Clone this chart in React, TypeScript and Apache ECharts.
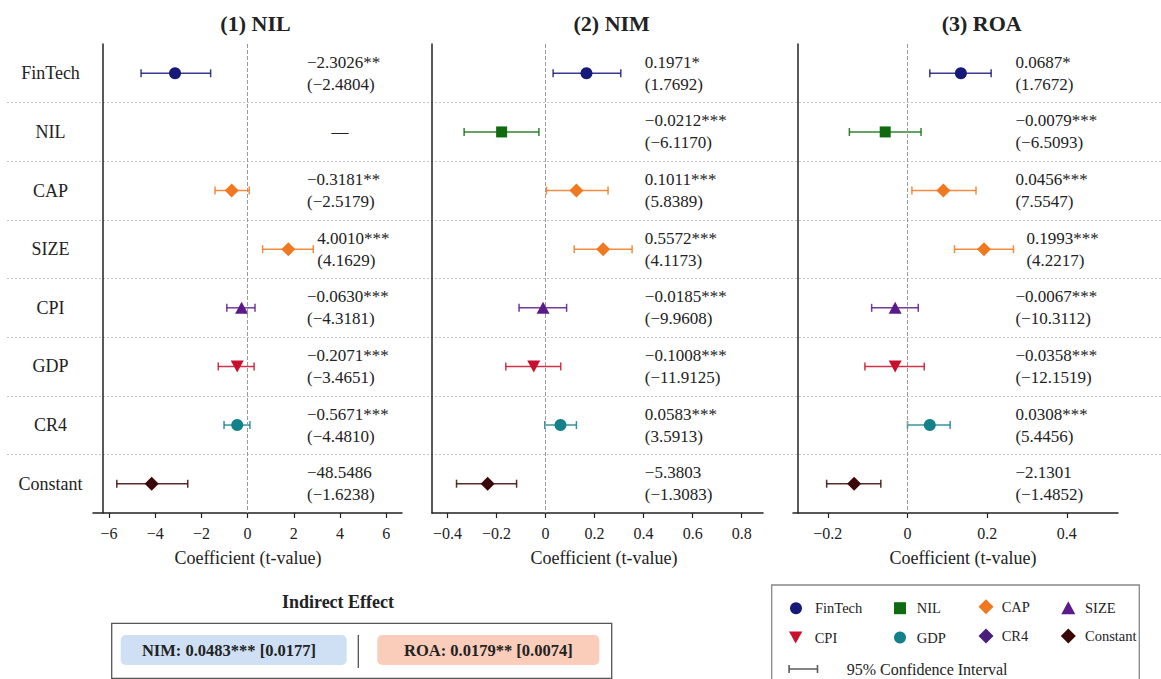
import React, { useEffect, useRef } from 'react';
import * as echarts from 'echarts';

// ---------------- data ----------------
const categories = ['FinTech', 'NIL', 'CAP', 'SIZE', 'CPI', 'GDP', 'CR4', 'Constant'];
const panelTitles = ['(1) NIL', '(2) NIM', '(3) ROA'];
const axisTitle = 'Coefficient (t-value)';

const nilCoef = ['\u22122.3026**', '\u2014', '\u22120.3181**', '4.0010***', '\u22120.0630***', '\u22120.2071***', '\u22120.5671***', '\u221248.5486'];
const nilT = ['(\u22122.4804)', '', '(\u22122.5179)', '(4.1629)', '(\u22124.3181)', '(\u22123.4651)', '(\u22124.4810)', '(\u22121.6238)'];
const nilPoint = [-3.14, null, -0.69, 1.76, -0.26, -0.45, -0.45, -4.15];
const nilLow = [-4.61, null, -1.41, 0.65, -0.90, -1.27, -1.02, -5.66];
const nilHigh = [-1.60, null, 0.07, 2.84, 0.32, 0.28, 0.10, -2.59];
const nilTicks = [-6, -4, -2, 0, 2, 4, 6];

const nimCoef = ['0.1971*', '\u22120.0212***', '0.1011***', '0.5572***', '\u22120.0185***', '\u22120.1008***', '0.0583***', '\u22125.3803'];
const nimT = ['(1.7692)', '(\u22126.1170)', '(5.8389)', '(4.1173)', '(\u22129.9608)', '(\u221211.9125)', '(3.5913)', '(\u22121.3083)'];
const nimPoint = [0.167, -0.179, 0.126, 0.235, -0.010, -0.048, 0.061, -0.236];
const nimLow = [0.031, -0.332, 0.004, 0.117, -0.108, -0.162, -0.003, -0.363];
const nimHigh = [0.307, -0.027, 0.255, 0.353, 0.086, 0.062, 0.126, -0.118];
const nimTicks = [-0.4, -0.2, 0, 0.2, 0.4, 0.6, 0.8];

const roaCoef = ['0.0687*', '\u22120.0079***', '0.0456***', '0.1993***', '\u22120.0067***', '\u22120.0358***', '0.0308***', '\u22122.1301'];
const roaT = ['(1.7672)', '(\u22126.5093)', '(7.5547)', '(4.2217)', '(\u221210.3112)', '(\u221212.1519)', '(5.4456)', '(\u22121.4852)'];
const roaPoint = [0.134, -0.056, 0.090, 0.192, -0.031, -0.031, 0.056, -0.134];
const roaLow = [0.056, -0.146, 0.011, 0.118, -0.090, -0.107, 0.000, -0.203];
const roaHigh = [0.210, 0.034, 0.172, 0.266, 0.027, 0.042, 0.107, -0.067];
const roaTicks = [-0.2, 0, 0.2, 0.4];

const indirectTitle = 'Indirect Effect';
const indirectNIM = 'NIM: 0.0483*** [0.0177]';
const indirectROA = 'ROA: 0.0179** [0.0074]';

const legendNames = ['FinTech', 'NIL', 'CAP', 'SIZE', 'CPI', 'GDP', 'CR4', 'Constant'];
const ciLegendName = '95% Confidence Interval';

// ---------------- styles / layout ----------------
const FONT = '"Liberation Serif", "Times New Roman", Times, serif';
const INK = '#222';
const INV_TRI = 'path://M0,0 L10,0 L5,9 Z';

const rowColors = ['#15197a', '#0f6b0f', '#f07820', '#f07820', '#5a1a8a', '#c8102e', '#13808a', '#3a0808'];
const rowSymbols = ['circle', 'rect', 'diamond', 'diamond', 'triangle', INV_TRI, 'circle', 'diamond'];
const rowSizes: any[] = [12, 11, 14, 14, [13, 12], [13, 12], 12, 14];

const legendColors = ['#15197a', '#0f6b0f', '#f07820', '#5a1a8a', '#c8102e', '#13808a', '#4a1f7a', '#3a0808'];
const legendIcons = ['circle', 'rect', 'diamond', 'triangle', INV_TRI, 'circle', 'diamond', 'diamond'];
const legendIconSize = [[12, 12], [12, 12], [15, 15], [14, 13], [14, 12], [12, 12], [15, 15], [15, 15]];
const legendColX = [796, 900, 986, 1068.3];
const legendTextX = [815, 916.7, 1001.7, 1085];
const legendRowY = [606.7, 636];

const panels = [
  { coef: nilCoef, t: nilT, point: nilPoint, low: nilLow, high: nilHigh, ticks: nilTicks },
  { coef: nimCoef, t: nimT, point: nimPoint, low: nimLow, high: nimHigh, ticks: nimTicks },
  { coef: roaCoef, t: roaT, point: roaPoint, low: roaLow, high: roaHigh, ticks: roaTicks },
];
const layout = [
  { left: 93, width: 309, min: -6.69, max: 6.68, yOffset: -10, textBase: 2.57, pad: 4, titleX: 255.5, nameX: 248 },
  { left: 432, width: 331, min: -0.463, max: 0.887, yOffset: 0, textBase: 0.405, pad: 12, titleX: 611.7, nameX: 604 },
  { left: 793, width: 325, min: -0.2875, max: 0.5285, yOffset: -5, textBase: 0.271, pad: 13, titleX: 981.7, nameX: 963 },
];
const GRID_TOP = 44;
const GRID_H = 469;

const fmtTick = (v: number) => (v === 0 ? '0' : v < 0 ? '\u2212' + String(Math.abs(v)) : String(v));

function buildOption() {
  const grid: any[] = [];
  const xAxis: any[] = [];
  const yAxis: any[] = [];
  const series: any[] = [];

  panels.forEach((P, pi) => {
    const L = layout[pi];
    grid.push({ left: L.left, top: GRID_TOP, width: L.width, height: GRID_H });
    xAxis.push({
      type: 'value', gridIndex: pi, min: L.min, max: L.max,
      axisLine: { show: true, onZero: false, lineStyle: { color: INK, width: 1.5 } },
      axisTick: { show: true, customValues: P.ticks, length: 5, lineStyle: { color: INK, width: 1.2 } },
      axisLabel: { show: true, customValues: P.ticks, formatter: fmtTick, fontFamily: FONT, fontSize: 16, color: INK, margin: 12 },
      splitLine: { show: false },
    });
    yAxis.push({
      type: 'category', gridIndex: pi, data: categories, inverse: true, offset: L.yOffset,
      axisLine: { show: true, onZero: false, lineStyle: { color: INK, width: 1.5 } },
      axisTick: { show: false },
      axisLabel: { show: pi === 0, align: 'center', margin: 52.5, fontFamily: FONT, fontSize: 18, color: INK },
      splitLine: { show: false },
    });

    const ciData: any[] = [];
    const ptData: any[] = [];
    const txtData: any[] = [];
    categories.forEach((_, i) => {
      if (P.low[i] != null && P.high[i] != null) ciData.push([P.low[i], P.high[i], i]);
      if (P.point[i] != null)
        ptData.push({ value: [P.point[i], i], symbol: rowSymbols[i], symbolSize: rowSizes[i], itemStyle: { color: rowColors[i], opacity: 1 } });
      txtData.push([L.textBase, i]);
    });

    series.push({
      type: 'custom', name: 'ci' + pi, xAxisIndex: pi, yAxisIndex: pi, z: 3,
      encode: { x: [0, 1], y: 2 },
      data: ciData,
      renderItem: (params: any, api: any) => {
        const lo = api.value(0), hi = api.value(1), idx = api.value(2);
        const a = api.coord([lo, idx]);
        const b = api.coord([hi, idx]);
        const c = rowColors[idx];
        const st = { stroke: c, lineWidth: 1.5, opacity: 0.85 };
        const cap = 4;
        return {
          type: 'group',
          children: [
            { type: 'line', shape: { x1: a[0], y1: a[1], x2: b[0], y2: b[1] }, style: st },
            { type: 'line', shape: { x1: a[0], y1: a[1] - cap, x2: a[0], y2: a[1] + cap }, style: st },
            { type: 'line', shape: { x1: b[0], y1: b[1] - cap, x2: b[0], y2: b[1] + cap }, style: st },
          ],
        };
      },
    });

    series.push({
      type: 'scatter', name: 'pt' + pi, xAxisIndex: pi, yAxisIndex: pi, z: 5,
      itemStyle: { opacity: 1 },
      data: ptData,
      markLine: {
        silent: true, symbol: ['none', 'none'], label: { show: false },
        lineStyle: { type: 'dashed', color: '#9a9a9a', width: 1 },
        data: [{ xAxis: 0 }],
      },
    });

    series.push({
      type: 'custom', name: 'txt' + pi, xAxisIndex: pi, yAxisIndex: pi, z: 4,
      encode: { x: 0, y: 1 },
      data: txtData,
      renderItem: (params: any, api: any) => {
        const idx = api.value(1);
        const base = api.coord([L.textBase, idx]);
        let x = base[0];
        const hi = P.high[idx];
        if (hi != null) x = Math.max(x, api.coord([hi, idx])[0] + L.pad);
        const second = P.t[idx];
        if (!second) {
          return {
            type: 'text', x: base[0] + 33, y: base[1],
            style: { text: P.coef[idx], fill: INK, fontSize: 17, fontFamily: FONT, align: 'center', verticalAlign: 'middle', textAlign: 'center', textVerticalAlign: 'middle' },
          };
        }
        return {
          type: 'text', x, y: base[1],
          style: {
            text: P.coef[idx] + '\n' + second, fill: INK, fontSize: 17, fontFamily: FONT, lineHeight: 22,
            align: 'left', verticalAlign: 'middle', textAlign: 'left', textVerticalAlign: 'middle',
          },
        };
      },
    });
  });

  // full-width separator grid
  grid.push({ left: 7, right: 0, top: GRID_TOP, height: GRID_H });
  xAxis.push({ type: 'value', gridIndex: 3, min: 0, max: 1, show: false });
  yAxis.push({
    type: 'value', gridIndex: 3, min: 0, max: 8, interval: 1, inverse: true,
    axisLine: { show: false }, axisTick: { show: false }, axisLabel: { show: false },
    splitLine: { show: true, showMinLine: false, showMaxLine: false, lineStyle: { type: [2, 2], color: '#c4c4c4', width: 1 } },
  });

  // legend series (no data) + legend components
  const legend: any[] = [];
  legendNames.forEach((name, i) => {
    series.push({ type: 'scatter', name, xAxisIndex: 3, yAxisIndex: 3, data: [], symbol: legendIcons[i], itemStyle: { color: legendColors[i], opacity: 1 } });
    const col = i % 4, row = Math.floor(i / 4);
    const [w, h] = legendIconSize[i];
    const cx = legendColX[col], cy = legendRowY[row];
    legend.push({
      left: cx - w / 2, top: cy - h / 2, padding: 0, itemWidth: w, itemHeight: h, selectedMode: false,
      data: [{ name, icon: legendIcons[i] }],
      textStyle: { fontFamily: FONT, fontSize: 14.5, color: INK, padding: [0, 0, 0, legendTextX[col] - (cx + w / 2) - 5] },
    });
  });
  const CI_ICON = 'path://M0,0h1.6v8h-1.6z M0,3.3h30v1.4h-30z M28.4,0h1.6v8h-1.6z';
  series.push({ type: 'scatter', name: ciLegendName, xAxisIndex: 3, yAxisIndex: 3, data: [], symbol: CI_ICON, itemStyle: { color: '#333' } });
  legend.push({
    left: 788.3, top: 665 - 4, padding: 0, itemWidth: 30, itemHeight: 8, selectedMode: false,
    data: [{ name: ciLegendName, icon: CI_ICON }],
    textStyle: { fontFamily: FONT, fontSize: 16, color: INK, padding: [0, 0, 0, 846.7 - 818.3 - 5] },
  });

  const txt = (text: string, x: number, y: number, size: number, bold = false) => ({
    type: 'text', x, y, silent: true,
    style: { text, fill: INK, fontSize: size, fontFamily: FONT, fontWeight: bold ? 'bold' : 'normal', align: 'center', verticalAlign: 'middle', textAlign: 'center', textVerticalAlign: 'middle' },
  });

  const graphic: any[] = [];
  layout.forEach((L, pi) => {
    graphic.push(txt(panelTitles[pi], L.titleX, 23, 22, true));
    graphic.push(txt(axisTitle, L.nameX, 558, 18));
  });
  // indirect effect box
  graphic.push(txt(indirectTitle, 338, 602, 18, true));
  graphic.push({ type: 'rect', shape: { x: 111.7, y: 623.3, width: 500, height: 55 }, style: { fill: 'none', stroke: '#555', lineWidth: 1.3 } });
  graphic.push({ type: 'rect', shape: { x: 120.7, y: 635, width: 226, height: 30, r: 5 }, style: { fill: '#cfe0f4' } });
  graphic.push({ type: 'rect', shape: { x: 377.3, y: 635, width: 222, height: 30, r: 5 }, style: { fill: '#f9cdb9' } });
  graphic.push({ type: 'line', shape: { x1: 358.3, y1: 635, x2: 358.3, y2: 668 }, style: { stroke: '#444', lineWidth: 1.2 } });
  graphic.push(txt(indirectNIM, 229, 650, 16.5, true));
  graphic.push(txt(indirectROA, 488.3, 650, 16.5, true));
  // legend frame
  graphic.push({ type: 'rect', shape: { x: 771.7, y: 585, width: 367.6, height: 110 }, style: { fill: 'none', stroke: '#888', lineWidth: 1.3 } });

  return { animation: false, backgroundColor: '#fff', grid, xAxis, yAxis, series, legend, graphic };
}

export default function App() {
  const ref = useRef<HTMLDivElement>(null);
  useEffect(() => {
    const chart = echarts.init(ref.current!, null, { renderer: 'svg' });
    chart.setOption(buildOption() as any);
    return () => chart.dispose();
  }, []);
  return <div ref={ref} style={{ position: 'fixed', left: 0, top: 0, width: 1161, height: 679, background: '#fff' }} />;
}
